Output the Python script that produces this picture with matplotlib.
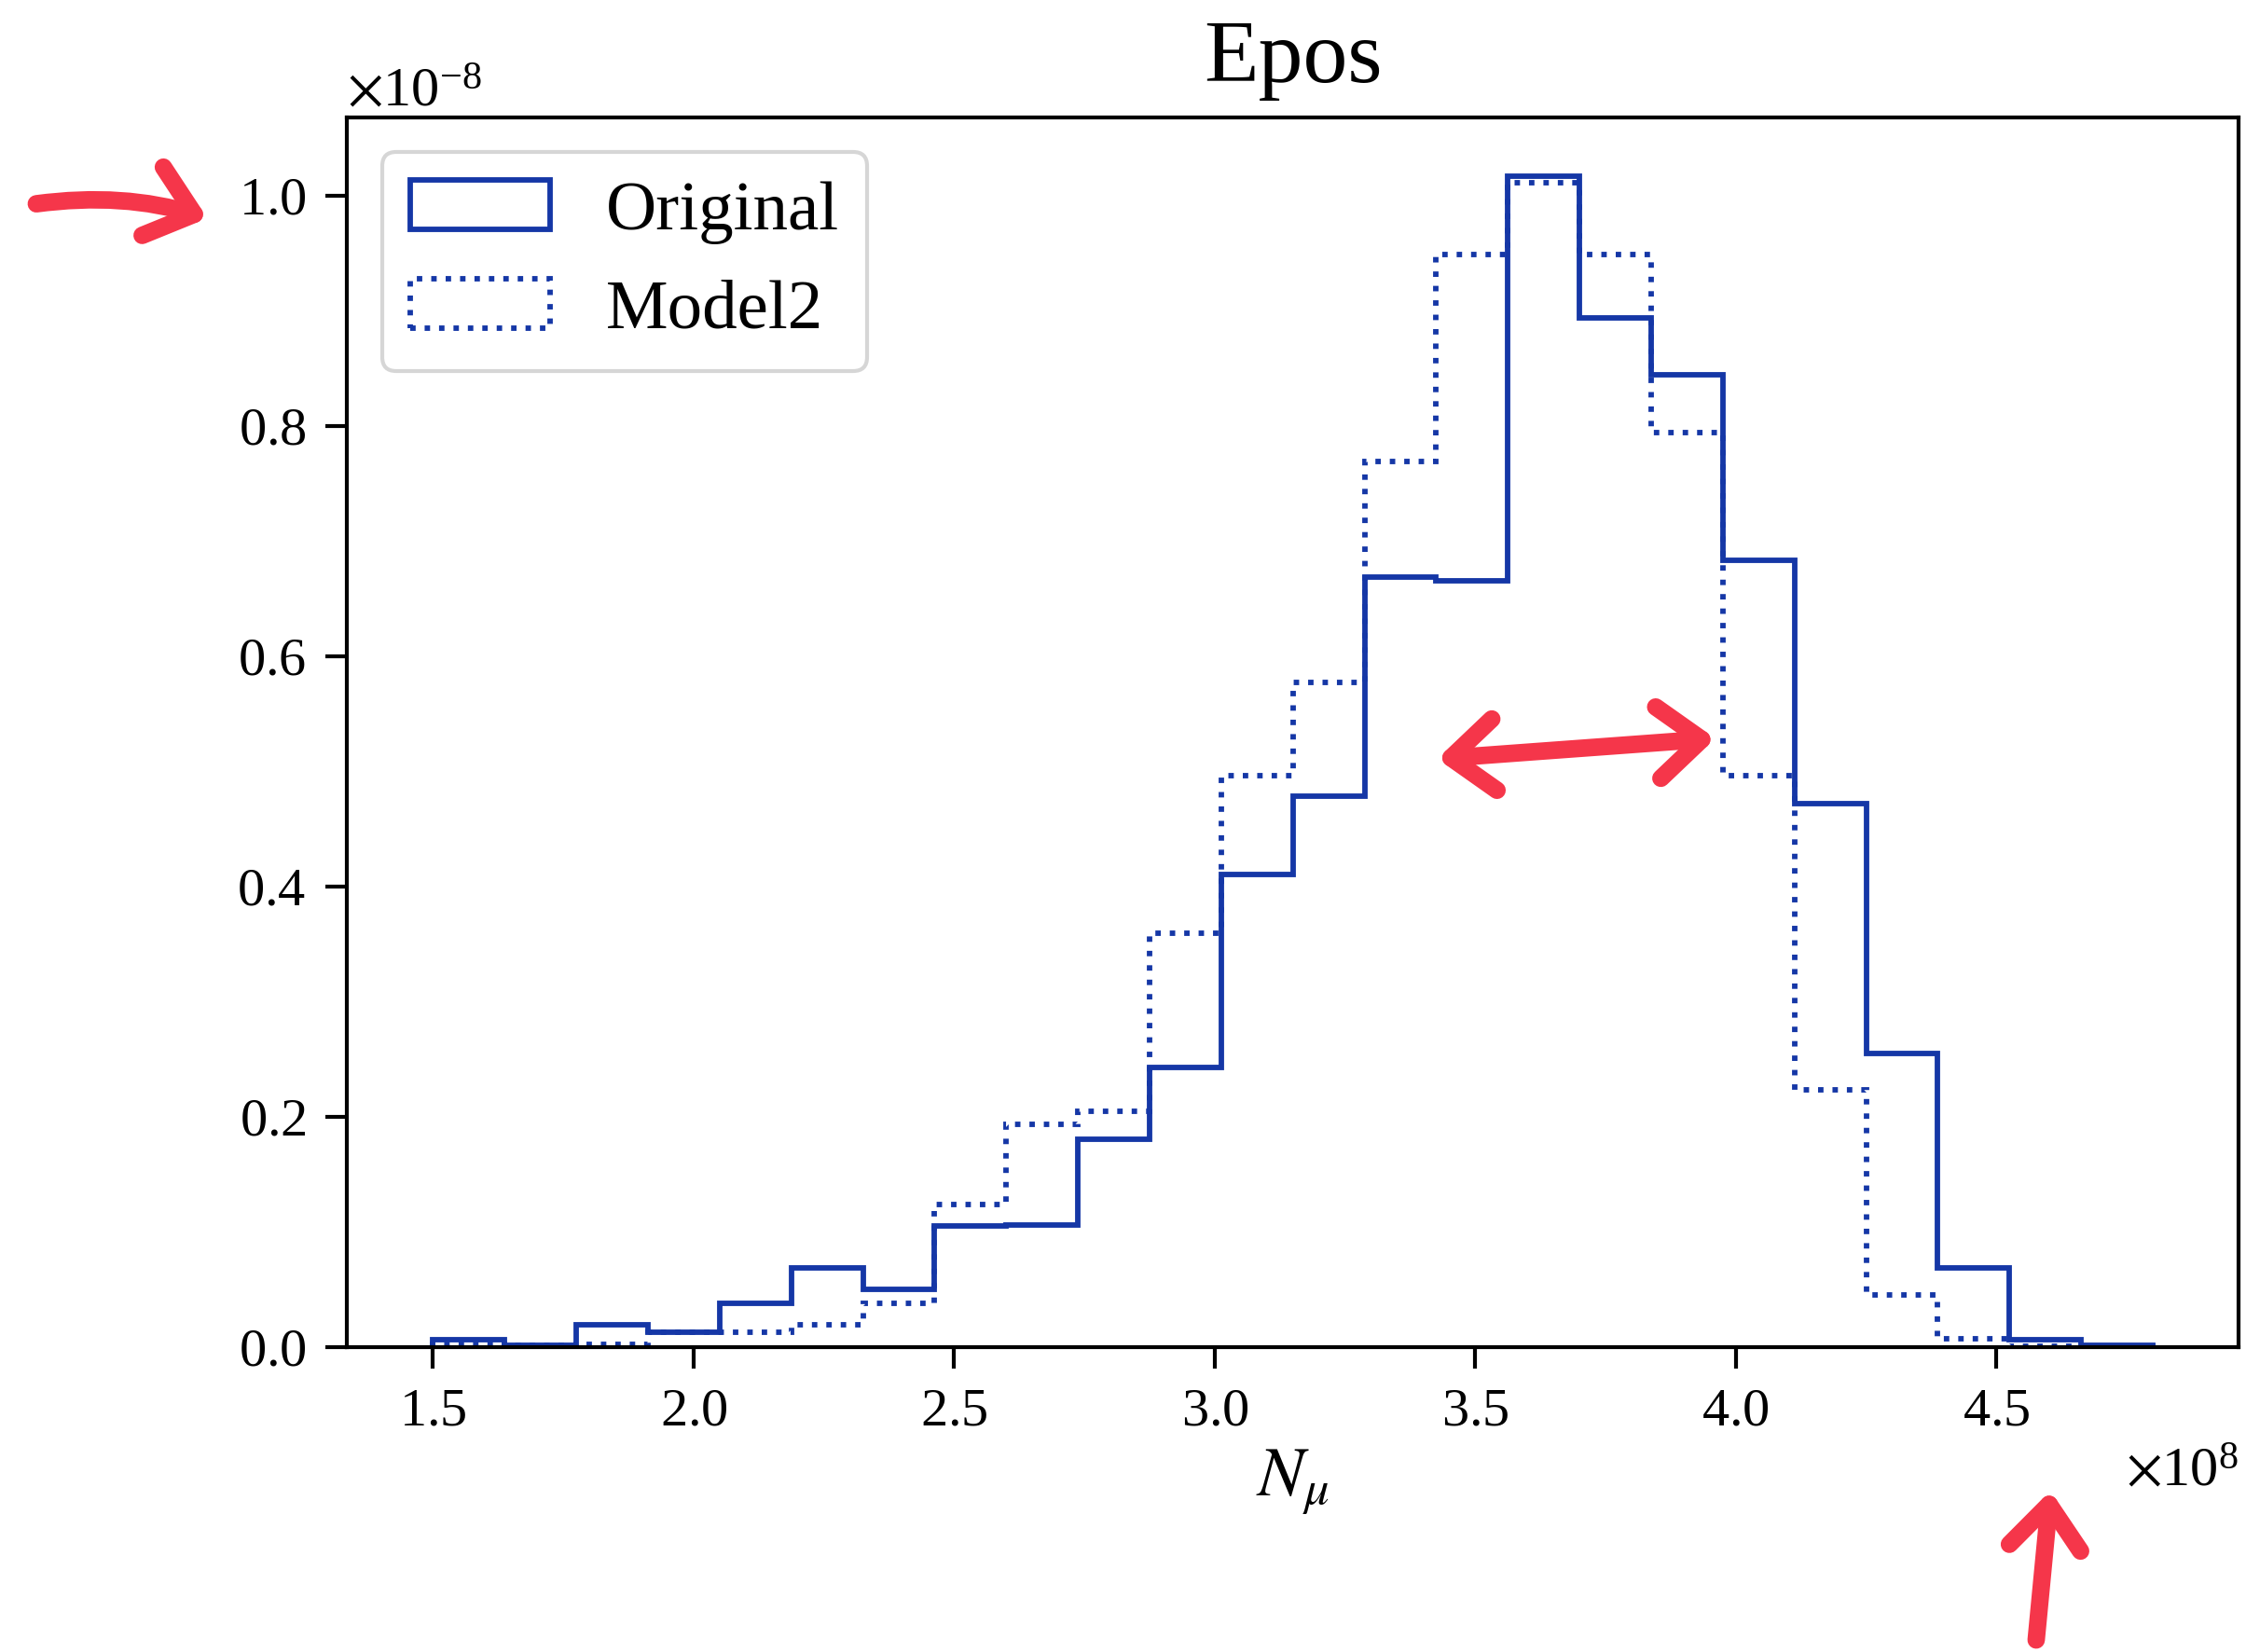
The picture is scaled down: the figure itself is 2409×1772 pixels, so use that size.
import numpy as np
import matplotlib
matplotlib.use("Agg")
import matplotlib.pyplot as plt
from matplotlib.patches import FancyArrowPatch
from matplotlib.ticker import ScalarFormatter

plt.rcParams['font.family'] = 'serif'
plt.rcParams['font.serif'] = ['Liberation Serif', 'DejaVu Serif']
plt.rcParams['mathtext.fontset'] = 'stix'

# ---- data (x in units of 1e8, density in units of 1e-8) ----
bin_edges = [1.5, 1.6375, 1.775, 1.9125, 2.05, 2.1875, 2.325, 2.4625, 2.6,
             2.7375, 2.875, 3.0125, 3.15, 3.2875, 3.425, 3.5625, 3.7, 3.8375,
             3.975, 4.1125, 4.25, 4.3875, 4.525, 4.6625, 4.8]
original = [0.0065, 0.0013, 0.019, 0.0127, 0.038, 0.0685, 0.0497, 0.105,
            0.106, 0.180, 0.243, 0.410, 0.478, 0.669, 0.665, 1.017, 0.894,
            0.844, 0.683, 0.472, 0.255, 0.069, 0.0065, 0.0015]
model2 = [0.0019, 0.001, 0.002, 0.0127, 0.0127, 0.019, 0.0375, 0.124,
          0.193, 0.205, 0.359, 0.496, 0.577, 0.769, 0.949, 1.011, 0.949,
          0.794, 0.496, 0.223, 0.045, 0.0067, 0.0005, 0.0002]
labels = ["Original", "Model2"]
title = "Epos"
xlabel = r"$N_\mu$"

color = '#1537a6'
red = '#f5364a'

edges = np.array(bin_edges) * 1e8
centers = 0.5 * (edges[:-1] + edges[1:])

fig = plt.figure(figsize=(2409 / 300, 1772 / 300), dpi=300)
ax = fig.add_axes([0.1545, 0.1847, 0.8423, 0.7442])

ax.hist(centers, bins=edges, weights=np.array(original) * 1e-8,
        histtype='step', color=color, linewidth=1.4, label=labels[0])
ax.hist(centers, bins=edges, weights=np.array(model2) * 1e-8,
        histtype='step', color=color, linewidth=1.4, linestyle=':',
        label=labels[1])

for axis in (ax.xaxis, ax.yaxis):
    fmt = ScalarFormatter(useMathText=True)
    axis.set_major_formatter(fmt)

ax.tick_params(labelsize=14, direction='out', length=5.5, width=1.0, pad=5)
ax.xaxis.get_offset_text().set_fontsize(14.5)
ax.yaxis.get_offset_text().set_fontsize(14.5)
for s in ax.spines.values():
    s.set_linewidth(1.0)

ax.set_title(title, fontsize=23, pad=9)
ax.set_xlabel(xlabel, fontsize=18, labelpad=3)
ax.legend(loc='upper left', fontsize=18)

# ---- hand-drawn style red arrows (figure coordinates) ----
def fpt(x, y):
    return (x / 1568, 1 - y / 1153)

arrows = [
    (fpt(20, 143), fpt(150, 154), '->', 'arc3,rad=-0.12'),
    (fpt(998, 530), fpt(1203, 515), '<->', 'arc3,rad=0.0'),
    (fpt(1421, 1150), fpt(1432, 1035), '->', 'arc3,rad=0.0'),
]
for start, end, style, cs in arrows:
    arr = FancyArrowPatch(start, end, transform=fig.transFigure,
                          arrowstyle=style + ',head_length=2.8,head_width=2.3',
                          connectionstyle=cs, color=red, lw=4.5,
                          capstyle='round', joinstyle='round',
                          mutation_scale=4)
    fig.add_artist(arr)

fig.savefig('out.png', dpi=300)
